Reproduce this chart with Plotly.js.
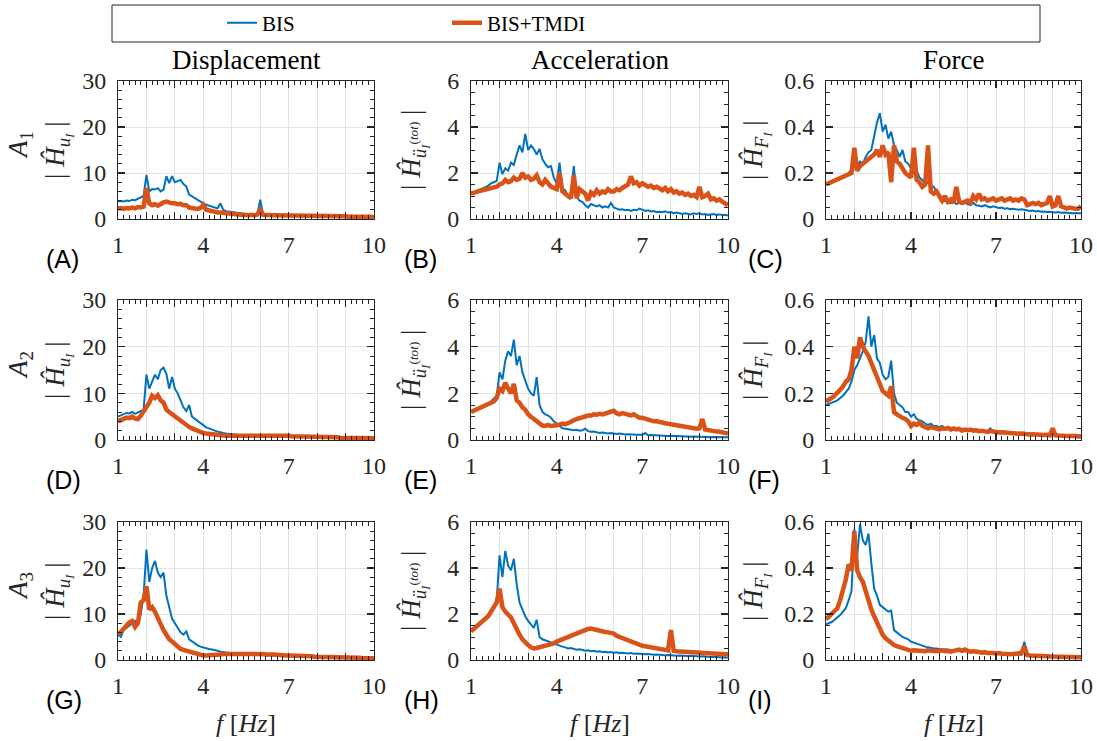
<!DOCTYPE html>
<html><head><meta charset="utf-8">
<script src="https://cdn.plot.ly/plotly-3.0.1.min.js"></script>
<style>html,body{margin:0;padding:0;background:#fff}#chart{width:1097px;height:741px}</style>
</head><body><div id="chart"></div>
<script>
// frequency axis [Hz]
const freq = [1.0,1.1,1.2,1.3,1.4,1.5,1.6,1.7,1.8,1.9,
2.0,2.1,2.2,2.3,2.4,2.5,2.6,2.7,2.8,2.9,
3.0,3.1,3.2,3.3,3.4,3.5,3.6,3.7,3.8,3.9,
4.0,4.1,4.2,4.3,4.4,4.5,4.6,4.7,4.8,4.9,
5.0,5.1,5.2,5.3,5.4,5.5,5.6,5.7,5.8,5.9,
6.0,6.1,6.2,6.3,6.4,6.5,6.6,6.7,6.8,6.9,
7.0,7.1,7.2,7.3,7.4,7.5,7.6,7.7,7.8,7.9,
8.0,8.1,8.2,8.3,8.4,8.5,8.6,8.7,8.8,8.9,
9.0,9.1,9.2,9.3,9.4,9.5,9.6,9.7,9.8,9.9,
10.0];

const seriesNames = ["BIS", "BIS+TMDI"];
const columnTitles = ["Displacement", "Acceleration", "Force"];
const panelLetters = ["(A)","(B)","(C)","(D)","(E)","(F)","(G)","(H)","(I)"];
const rowLabels = ["1", "2", "3"];
const xTitle = "<i>f</i> [<i>Hz</i>]";

// (A) displacement, A1
const dispA1_BIS = [3.8,3.9,3.8,4.0,3.9,4.2,4.1,4.4,4.6,5.0,
9.6,6.0,6.5,6.4,6.7,6.0,6.4,9.3,7.8,9.3,
8.0,8.2,8.5,7.6,7.1,5.3,4.9,4.6,4.2,3.8,
3.4,3.1,2.9,2.7,2.5,2.3,3.4,2.0,1.7,1.6,
1.5,1.4,1.3,1.2,1.2,1.1,1.1,1.0,1.0,1.0,
4.2,1.0,0.9,0.9,0.9,0.8,0.8,0.8,0.8,0.8,
0.8,0.7,0.8,0.7,0.7,0.7,0.7,0.7,0.6,0.7,
0.6,0.6,0.7,0.6,0.6,0.6,0.6,0.7,0.6,0.6,
0.6,0.5,0.6,0.5,0.5,0.5,0.5,0.5,0.4,0.5,
0.4];
const dispA1_TMDI = [2.3,2.4,2.2,2.4,2.3,2.5,2.3,2.6,2.5,2.7,
6.7,3.4,3.0,3.2,2.9,3.3,3.6,3.8,3.5,3.4,
3.4,3.2,3.3,3.0,3.0,2.5,2.4,2.3,2.2,2.4,
3.1,2.0,1.8,1.6,1.5,1.4,1.4,1.3,1.2,1.1,
1.0,1.0,0.9,0.9,0.9,0.8,0.8,0.9,0.8,1.0,
2.0,0.9,0.8,0.8,0.8,0.8,0.8,0.7,0.8,0.7,
0.7,0.7,0.7,0.8,0.7,0.7,0.6,0.7,0.6,0.7,
0.6,0.6,0.7,0.6,0.6,0.6,0.7,0.6,0.8,0.6,
0.6,0.5,0.5,0.6,0.5,0.5,0.5,0.6,0.4,0.5,
0.3];

// (B) acceleration, A1
const accA1_BIS = [1.10,1.15,1.20,1.25,1.30,1.38,1.45,1.55,1.60,1.65,
2.45,1.95,2.20,2.10,2.45,2.35,2.80,3.20,2.90,3.70,
3.00,3.20,3.05,2.80,3.05,2.60,2.40,2.25,2.30,1.80,
1.55,2.45,1.30,1.25,1.00,1.05,2.30,0.95,0.80,0.75,
0.60,0.50,0.65,0.60,0.55,0.60,0.50,0.55,0.50,0.70,
0.50,0.45,0.40,0.42,0.38,0.40,0.35,0.40,0.38,0.45,
0.40,0.35,0.38,0.33,0.35,0.30,0.32,0.30,0.33,0.28,
0.30,0.25,0.28,0.26,0.22,0.25,0.24,0.20,0.25,0.22,
0.25,0.20,0.22,0.18,0.20,0.22,0.18,0.20,0.17,0.18,
0.15];
const accA1_TMDI = [1.10,1.12,1.18,1.22,1.25,1.30,1.33,1.38,1.42,1.40,
1.50,1.55,1.70,1.60,1.65,1.80,1.70,1.75,2.00,1.80,
1.85,1.70,1.75,1.90,1.60,1.50,1.70,1.55,1.40,1.35,
1.30,2.00,1.20,1.10,1.00,0.90,1.90,0.90,1.30,1.20,
1.10,0.80,1.15,1.05,1.25,1.10,1.20,1.15,1.30,1.20,
1.20,1.30,1.25,1.35,1.40,1.50,1.85,1.55,1.60,1.45,
1.55,1.50,1.40,1.45,1.35,1.40,1.30,1.25,1.35,1.20,
1.30,1.15,1.20,1.10,1.15,1.05,1.10,1.00,1.05,0.95,
1.40,0.95,1.00,1.10,0.85,0.90,0.80,0.85,0.75,0.70,
0.60];

// (C) force, A1
const forceA1_BIS = [0.150,0.155,0.160,0.165,0.170,0.175,0.180,0.190,0.200,0.215,
0.225,0.230,0.250,0.240,0.270,0.290,0.300,0.360,0.420,0.460,
0.380,0.410,0.350,0.380,0.320,0.300,0.270,0.300,0.250,0.240,
0.220,0.200,0.210,0.180,0.170,0.150,0.160,0.140,0.140,0.120,
0.090,0.075,0.080,0.070,0.070,0.075,0.065,0.070,0.065,0.070,
0.065,0.060,0.070,0.060,0.058,0.055,0.060,0.055,0.050,0.055,
0.050,0.048,0.050,0.045,0.047,0.043,0.045,0.042,0.040,0.042,
0.040,0.038,0.035,0.037,0.033,0.035,0.032,0.033,0.030,0.032,
0.030,0.028,0.030,0.027,0.028,0.026,0.027,0.025,0.026,0.025,
0.025];
const forceA1_TMDI = [0.150,0.155,0.160,0.165,0.170,0.175,0.180,0.185,0.195,0.200,
0.310,0.210,0.230,0.240,0.250,0.260,0.270,0.280,0.300,0.270,
0.320,0.280,0.290,0.160,0.320,0.250,0.240,0.220,0.200,0.190,
0.180,0.310,0.170,0.160,0.140,0.150,0.320,0.120,0.110,0.120,
0.100,0.080,0.100,0.075,0.085,0.070,0.140,0.075,0.070,0.075,
0.080,0.070,0.100,0.085,0.110,0.085,0.090,0.080,0.085,0.090,
0.080,0.085,0.090,0.080,0.085,0.090,0.080,0.085,0.080,0.090,
0.085,0.060,0.065,0.070,0.065,0.070,0.060,0.065,0.070,0.100,
0.055,0.060,0.100,0.055,0.050,0.045,0.050,0.045,0.045,0.045,
0.055];

// (D) displacement, A2
const dispA2_BIS = [5.0,5.3,5.5,5.8,5.7,6.0,5.6,5.9,6.2,6.5,
14.0,11.0,12.5,14.0,13.0,15.0,15.5,14.2,11.0,13.5,
11.0,10.0,8.5,7.0,6.2,7.5,5.0,4.5,4.0,3.5,
3.0,2.7,2.5,2.2,2.0,1.8,1.6,1.5,1.4,1.3,
1.2,1.1,1.1,1.0,1.0,1.0,1.0,1.0,1.0,1.0,
1.0,1.0,1.0,0.9,1.0,0.9,0.9,0.9,0.9,0.9,
0.9,0.8,0.8,0.8,0.8,0.8,0.7,0.8,0.7,0.7,
0.7,0.7,0.7,0.6,0.6,0.6,0.6,0.6,0.6,0.5,
0.5,0.5,0.5,0.5,0.5,0.4,0.5,0.4,0.4,0.4,
0.4];
const dispA2_TMDI = [4.0,4.3,4.5,4.8,4.7,5.0,4.6,4.5,5.2,6.0,
7.0,8.0,9.5,9.0,9.6,8.5,8.0,6.5,6.0,5.5,
5.0,4.5,4.0,3.5,3.0,2.8,2.5,2.2,2.0,1.8,
1.5,1.4,1.3,1.2,1.1,1.1,1.0,1.0,0.9,0.9,
0.9,0.9,1.0,1.0,1.0,1.0,1.0,1.1,1.0,1.1,
1.1,1.0,1.0,1.0,1.0,1.0,0.9,0.9,0.9,0.9,
0.9,0.8,0.8,0.8,0.8,0.8,0.7,0.7,0.7,0.7,
0.7,0.7,0.6,0.6,0.6,0.6,0.6,0.6,0.5,0.5,
0.5,0.5,0.5,0.5,0.5,0.4,0.4,0.4,0.4,0.4,
0.4];

// (E) acceleration, A2
const accA2_BIS = [1.25,1.30,1.35,1.40,1.45,1.50,1.55,1.65,1.80,1.90,
2.90,2.60,3.40,3.80,3.60,4.30,3.20,3.60,2.90,2.50,
2.20,2.00,1.90,2.70,1.50,1.20,1.10,1.05,0.95,0.80,
0.70,0.60,0.50,0.48,0.45,0.45,0.42,0.44,0.40,0.42,
0.48,0.38,0.35,0.36,0.32,0.30,0.32,0.30,0.28,0.30,
0.28,0.26,0.28,0.25,0.24,0.25,0.23,0.24,0.22,0.23,
0.22,0.30,0.20,0.21,0.20,0.19,0.20,0.18,0.19,0.17,
0.18,0.17,0.16,0.17,0.15,0.16,0.15,0.14,0.15,0.14,
0.15,0.13,0.14,0.13,0.12,0.13,0.12,0.12,0.11,0.12,
0.12];
const accA2_TMDI = [1.20,1.25,1.30,1.35,1.40,1.45,1.50,1.58,1.65,1.80,
2.20,2.10,2.45,2.20,2.00,2.40,1.70,1.60,1.40,1.30,
1.10,1.00,0.90,0.80,0.70,0.62,0.60,0.65,0.60,0.62,
0.60,0.65,0.70,0.68,0.72,0.80,0.85,0.90,0.95,1.00,
1.00,1.05,1.05,1.10,1.08,1.12,1.10,1.15,1.15,1.20,
1.25,1.15,1.10,1.15,1.10,1.05,1.05,1.10,1.00,0.95,
0.95,0.90,0.85,0.85,0.80,0.80,0.75,0.75,0.72,0.70,
0.68,0.65,0.62,0.60,0.58,0.55,0.55,0.52,0.50,0.48,
0.50,0.90,0.45,0.42,0.40,0.38,0.36,0.35,0.33,0.30,
0.28];

// (F) force, A2
const forceA2_BIS = [0.150,0.155,0.160,0.165,0.170,0.180,0.190,0.205,0.220,0.250,
0.300,0.320,0.350,0.380,0.420,0.530,0.400,0.450,0.350,0.330,
0.280,0.260,0.270,0.340,0.200,0.160,0.150,0.140,0.120,0.120,
0.100,0.110,0.090,0.085,0.080,0.070,0.065,0.070,0.060,0.060,
0.055,0.060,0.050,0.055,0.050,0.048,0.050,0.045,0.048,0.045,
0.045,0.042,0.045,0.040,0.042,0.040,0.038,0.040,0.050,0.038,
0.036,0.035,0.034,0.035,0.033,0.032,0.033,0.030,0.031,0.030,
0.028,0.029,0.027,0.026,0.027,0.025,0.024,0.025,0.023,0.024,
0.022,0.023,0.022,0.021,0.020,0.021,0.020,0.019,0.020,0.018,
0.018];
const forceA2_TMDI = [0.165,0.170,0.180,0.190,0.200,0.215,0.230,0.250,0.260,0.300,
0.400,0.350,0.440,0.400,0.380,0.360,0.330,0.300,0.260,0.240,
0.210,0.200,0.190,0.230,0.120,0.110,0.100,0.095,0.090,0.080,
0.060,0.070,0.065,0.075,0.060,0.055,0.050,0.055,0.050,0.048,
0.045,0.050,0.048,0.052,0.045,0.050,0.045,0.048,0.040,0.045,
0.042,0.045,0.040,0.042,0.038,0.040,0.038,0.035,0.038,0.035,
0.034,0.032,0.033,0.030,0.031,0.030,0.028,0.029,0.027,0.028,
0.026,0.025,0.024,0.025,0.023,0.022,0.023,0.021,0.022,0.020,
0.050,0.020,0.019,0.020,0.018,0.017,0.018,0.016,0.017,0.015,
0.015];

// (G) displacement, A3
const dispA3_BIS = [5.5,5.0,6.5,7.0,7.5,8.0,8.5,7.5,10.0,14.0,
24.0,17.0,20.0,21.5,19.0,18.0,19.0,14.0,11.5,9.0,
8.0,7.0,6.0,5.5,6.2,4.5,4.0,3.5,3.2,2.9,
2.7,2.5,2.4,2.3,2.2,2.0,1.8,1.7,1.6,1.5,
1.4,1.4,1.3,1.3,1.3,1.3,1.2,1.2,1.2,1.1,
1.1,1.1,1.0,1.0,1.0,1.0,0.9,0.9,0.9,0.9,
0.8,0.8,0.8,0.8,0.7,0.7,0.7,0.7,0.7,0.6,
0.6,0.6,0.6,0.6,0.6,0.5,0.5,0.5,0.5,0.5,
0.5,0.5,0.5,0.4,0.4,0.4,0.4,0.4,0.4,0.4,
0.4];
const dispA3_TMDI = [5.5,6.0,6.8,7.5,8.2,8.5,7.2,8.0,12.5,13.0,
16.0,11.0,11.5,10.5,9.0,7.5,6.5,5.5,4.5,4.0,
3.4,3.0,2.4,2.2,2.0,1.8,1.6,1.4,1.2,1.0,
1.0,1.0,1.0,1.1,1.1,1.2,1.2,1.3,1.3,1.4,
1.4,1.5,1.4,1.5,1.4,1.5,1.4,1.4,1.3,1.4,
1.3,1.3,1.2,1.3,1.2,1.2,1.1,1.1,1.1,1.0,
1.0,1.0,0.9,0.9,0.9,0.8,0.8,0.8,0.8,0.7,
0.7,0.7,0.7,0.7,0.6,0.6,0.6,0.6,0.6,0.5,
0.5,0.5,0.5,0.5,0.5,0.5,0.4,0.4,0.4,0.4,
0.4];

// (H) acceleration, A3
const accA3_BIS = [1.25,1.35,1.45,1.55,1.65,1.75,1.90,2.10,2.30,2.60,
4.55,3.60,4.74,4.10,3.90,4.40,3.30,2.50,2.20,1.90,
1.70,1.55,1.40,1.75,1.00,0.90,0.85,0.80,0.75,0.70,
0.65,0.60,0.58,0.55,0.50,0.52,0.48,0.45,0.47,0.42,
0.40,0.42,0.38,0.40,0.36,0.38,0.35,0.36,0.33,0.35,
0.32,0.34,0.30,0.32,0.30,0.28,0.30,0.27,0.28,0.26,
0.26,0.25,0.26,0.24,0.23,0.24,0.22,0.23,0.21,0.22,
0.20,0.21,0.19,0.20,0.18,0.19,0.17,0.18,0.16,0.17,
0.15,0.16,0.14,0.15,0.13,0.14,0.12,0.13,0.11,0.12,
0.10];
const accA3_TMDI = [1.25,1.35,1.45,1.55,1.65,1.75,1.90,2.10,2.30,2.50,
3.10,2.30,2.10,2.00,1.85,1.60,1.30,1.10,0.90,0.75,
0.65,0.55,0.50,0.52,0.55,0.55,0.58,0.62,0.65,0.72,
0.80,0.85,0.90,1.00,1.05,1.10,1.15,1.20,1.25,1.28,
1.30,1.35,1.37,1.33,1.30,1.28,1.25,1.22,1.20,1.18,
1.15,1.05,1.00,0.95,0.88,0.82,0.80,0.75,0.70,0.65,
0.62,0.60,0.58,0.55,0.52,0.50,0.48,0.45,0.44,0.42,
1.30,0.40,0.38,0.37,0.36,0.35,0.34,0.33,0.32,0.32,
0.31,0.30,0.30,0.29,0.28,0.28,0.27,0.26,0.26,0.25,
0.25];

// (I) force, A3
const forceA3_BIS = [0.155,0.160,0.165,0.175,0.185,0.195,0.210,0.225,0.260,0.300,
0.570,0.450,0.590,0.520,0.500,0.550,0.420,0.310,0.280,0.240,
0.230,0.220,0.210,0.215,0.130,0.120,0.110,0.100,0.095,0.090,
0.080,0.075,0.070,0.065,0.060,0.058,0.055,0.052,0.050,0.050,
0.048,0.045,0.047,0.044,0.043,0.042,0.040,0.041,0.039,0.038,
0.037,0.036,0.035,0.034,0.035,0.033,0.032,0.031,0.030,0.030,
0.029,0.028,0.027,0.027,0.026,0.025,0.025,0.024,0.024,0.023,
0.080,0.023,0.022,0.021,0.021,0.020,0.020,0.019,0.019,0.018,
0.018,0.017,0.017,0.016,0.016,0.015,0.015,0.015,0.014,0.014,
0.014];
const forceA3_TMDI = [0.177,0.190,0.200,0.213,0.225,0.260,0.300,0.350,0.416,0.390,
0.560,0.390,0.360,0.340,0.300,0.250,0.220,0.190,0.160,0.130,
0.110,0.095,0.085,0.070,0.065,0.060,0.055,0.050,0.045,0.042,
0.040,0.042,0.040,0.038,0.040,0.038,0.042,0.040,0.042,0.038,
0.040,0.042,0.038,0.040,0.036,0.038,0.040,0.045,0.040,0.046,
0.040,0.036,0.038,0.034,0.035,0.032,0.034,0.030,0.031,0.030,
0.028,0.030,0.027,0.028,0.026,0.025,0.026,0.024,0.025,0.030,
0.060,0.022,0.020,0.020,0.019,0.018,0.017,0.017,0.016,0.015,
0.015,0.015,0.014,0.014,0.013,0.013,0.012,0.012,0.012,0.012,
0.012];

const panelsBIS  = [dispA1_BIS, accA1_BIS, forceA1_BIS, dispA2_BIS, accA2_BIS, forceA2_BIS, dispA3_BIS, accA3_BIS, forceA3_BIS];
const panelsTMDI = [dispA1_TMDI, accA1_TMDI, forceA1_TMDI, dispA2_TMDI, accA2_TMDI, forceA2_TMDI, dispA3_TMDI, accA3_TMDI, forceA3_TMDI];
const yRanges = [[0,30],[0,6],[0,0.6]];
const yDticks = [10,2,0.2];
const yMinor = [2,0.5,0.05];

const W = 1097, H = 741;
const colPx = [[118,374],[471,728],[826,1081]];
const rowPx = [[81,219],[300,440],[522,660]];
const BLUE = '#0072BD', ORANGE = '#D95319', AX = '#262626', TK = '#262626';
const SERIF = 'Liberation Serif, Times New Roman, serif';
const SANS = 'Liberation Sans, Arial, sans-serif';

const yTitleText = [
  '| <i>Ĥ</i><sub><i>u</i><sub><i>I</i></sub></sub> |',
  '| <i>Ĥ</i><sub><i>ü</i><sub><i>I</i></sub><sup>(<i>tot</i>)</sup></sub> |',
  '| <i>Ĥ</i><sub><i>F</i><sub><i>I</i></sub></sub> |'
];
const yTitleX = [58, 414, 756];

const traces = [];
const layout = {
  width: W, height: H,
  margin: {l:0, r:0, t:0, b:0},
  paper_bgcolor: '#fff', plot_bgcolor: '#fff',
  showlegend: true,
  legend: {orientation:'h', x: 222/W, xanchor:'left', y: 1-23/H, yanchor:'middle',
           font:{family:SERIF, size:21, color:'#000'}, bgcolor:'rgba(0,0,0,0)',
           entrywidth: 180, entrywidthmode:'pixels', itemclick:false},
  annotations: [], shapes: [
    {type:'rect', xref:'paper', yref:'paper', x0:112/W, x1:1040/W, y0:1-42/H, y1:1-5/H,
     line:{color:AX, width:1}, fillcolor:'rgba(0,0,0,0)'}
  ]
};

for (let p = 0; p < 9; p++) {
  const r = Math.floor(p/3), c = p % 3;
  const id = p === 0 ? '' : String(p+1);
  traces.push({x: freq, y: panelsBIS[p], type:'scatter', mode:'lines', name: seriesNames[0],
    xaxis:'x'+id, yaxis:'y'+id, line:{color:BLUE, width:2}, showlegend: p===0, legendgroup:'bis', hoverinfo:'skip'});
  traces.push({x: freq, y: panelsTMDI[p], type:'scatter', mode:'lines', name: seriesNames[1],
    xaxis:'x'+id, yaxis:'y'+id, line:{color:ORANGE, width:4.5}, showlegend: p===0, legendgroup:'tmdi', hoverinfo:'skip'});

  const xa = {
    domain:[colPx[c][0]/W, colPx[c][1]/W], anchor:'y'+id, range:[1,10],
    tickmode:'linear', tick0:1, dtick:1, ticklabelstep:3,
    ticks:'inside', ticklen:7, tickwidth:1.2, tickcolor:TK,
    showline:true, linecolor:AX, linewidth:1, mirror:'allticks', layer:'above traces',
    showgrid:true, gridcolor:'#e3e3e3', gridwidth:1, zeroline:false,
    tickfont:{family:SERIF, size:24, color:AX}, ticklabelstandoff: 4,
    minor:{tickmode:'linear', dtick:0.2, tick0:1, ticks:'inside', ticklen:4, tickwidth:1, tickcolor:TK, showgrid:false}
  };
  const ya = {
    domain:[1-rowPx[r][1]/H, 1-rowPx[r][0]/H], anchor:'x'+id, range:yRanges[c],
    tickmode:'linear', dtick:yDticks[c], tick0:0,
    ticks:'inside', ticklen:7, tickwidth:1.2, tickcolor:TK,
    showline:true, linecolor:AX, linewidth:1, mirror:'allticks', layer:'above traces',
    showgrid:true, gridcolor:'#e3e3e3', gridwidth:1, zeroline:false,
    tickfont:{family:SERIF, size:24, color:AX}, ticklabelstandoff: 6,
    minor:{tickmode:'linear', dtick:yMinor[c], tick0:0, ticks:'inside', ticklen:4, tickwidth:1, tickcolor:TK, showgrid:false}
  };
  layout['xaxis'+id] = xa;
  layout['yaxis'+id] = ya;

  const yc = 1 - (rowPx[r][0]+rowPx[r][1])/2/H;
  layout.annotations.push({text: yTitleText[c], xref:'paper', yref:'paper', x: yTitleX[c]/W, xanchor:'center',
    y: yc, yanchor:'middle', textangle:-90, showarrow:false, font:{family:SERIF, size:27, color:AX}});
  if (c === 0) {
    layout.annotations.push({text: '<i>A</i><sub>' + rowLabels[r] + '</sub>', xref:'paper', yref:'paper', x: 20/W, xanchor:'center',
      y: yc + 5/H, yanchor:'middle', textangle:-90, showarrow:false, font:{family:SERIF, size:27, color:AX}});
  }
  if (r === 2) {
    layout.annotations.push({text: xTitle, xref:'paper', yref:'paper', x: (colPx[c][0]+colPx[c][1])/2/W, xanchor:'center',
      y: 1/H, yanchor:'bottom', showarrow:false, font:{family:SERIF, size:26, color:AX}});
  }

  const lblX = [44, 402, 746][c];
  layout.annotations.push({text: panelLetters[p], xref:'paper', yref:'paper', x: lblX/W, xanchor:'left',
    y: 1-(rowPx[r][1]+40)/H, yanchor:'middle', showarrow:false, font:{family:SANS, size:25, color:'#000'}});
}
for (let c = 0; c < 3; c++) {
  layout.annotations.push({text: columnTitles[c], xref:'paper', yref:'paper',
    x: (colPx[c][0]+colPx[c][1])/2/W, xanchor:'center', y: 1-60/H, yanchor:'middle', showarrow:false,
    font:{family:SERIF, size:27, color:'#000'}});
}

Plotly.newPlot('chart', traces, layout, {staticPlot:true, displayModeBar:false});
</script></body></html>
